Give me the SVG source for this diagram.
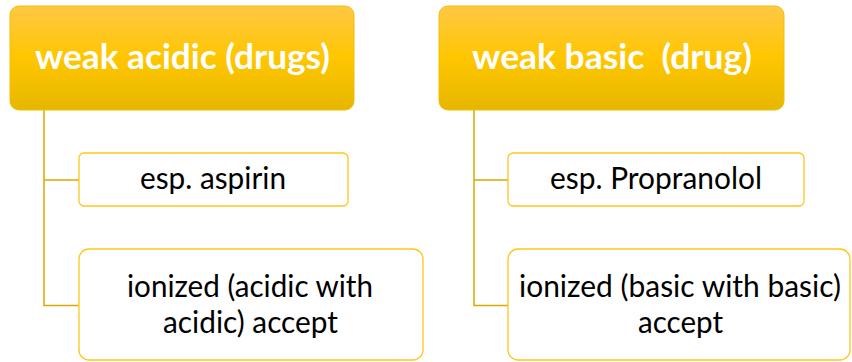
<svg xmlns="http://www.w3.org/2000/svg" width="852" height="362" viewBox="0 0 852 362">
  <defs>
    <linearGradient id="hdrGrad" x1="0" y1="0" x2="0" y2="1">
      <stop offset="0" stop-color="#FFC845"/>
      <stop offset="0.5" stop-color="#FFC600"/>
      <stop offset="1" stop-color="#E6B700"/>
    </linearGradient>
  </defs>
  <style>
    .hdr { fill: url(#hdrGrad); stroke: #F0BE00; stroke-width: 1; }
    .hdrText { font-family: Lato, "Liberation Sans", sans-serif; font-weight: bold; font-size: 35px; fill: #FFFFFF; text-anchor: middle; white-space: pre; }
    .child { fill: #FFFFFF; stroke: #FFC61A; stroke-width: 1.3; }
    .childText { font-family: Lato, "Liberation Sans", sans-serif; font-size: 31px; fill: #000000; text-anchor: middle; }
    .conn { fill: none; stroke: #D9A800; stroke-width: 1.5; }
  </style>

  <g id="connectors">
    <path class="conn" d="M44,110 V305.5 H79 M44,180 H79"/>
    <path class="conn" d="M474,110 V305.5 H508 M474,180 H508"/>
  </g>

  <g id="node-weak-acidic">
    <rect class="hdr" x="10" y="6" width="344" height="104" rx="9" ry="9"/>
    <text class="hdrText" x="182.5" y="69" textLength="295" lengthAdjust="spacingAndGlyphs">weak acidic (drugs)</text>
  </g>

  <g id="node-aspirin">
    <rect class="child" x="79" y="153" width="269" height="53" rx="5" ry="5"/>
    <text class="childText" x="213" y="188.5" textLength="146" lengthAdjust="spacingAndGlyphs">esp. aspirin</text>
  </g>

  <g id="node-ionized-acidic">
    <rect class="child" x="79" y="249" width="344" height="111" rx="10" ry="10"/>
    <text class="childText" x="250" y="297" textLength="246" lengthAdjust="spacingAndGlyphs">ionized (acidic with</text>
    <text class="childText" x="250.5" y="332.5" textLength="175" lengthAdjust="spacingAndGlyphs">acidic) accept</text>
  </g>

  <g id="node-weak-basic">
    <rect class="hdr" x="439" y="6" width="345" height="104" rx="9" ry="9"/>
    <text class="hdrText" x="612" y="69" textLength="280" lengthAdjust="spacingAndGlyphs" xml:space="preserve">weak basic  (drug)</text>
  </g>

  <g id="node-propranolol">
    <rect class="child" x="508" y="153" width="296" height="53" rx="5" ry="5"/>
    <text class="childText" x="656" y="188.5" textLength="212" lengthAdjust="spacingAndGlyphs">esp. Propranolol</text>
  </g>

  <g id="node-ionized-basic">
    <rect class="child" x="508" y="249" width="342" height="111" rx="10" ry="10"/>
    <text class="childText" x="680" y="297" textLength="322" lengthAdjust="spacingAndGlyphs">ionized (basic with basic)</text>
    <text class="childText" x="680.5" y="332.5" textLength="85" lengthAdjust="spacingAndGlyphs">accept</text>
  </g>
</svg>
